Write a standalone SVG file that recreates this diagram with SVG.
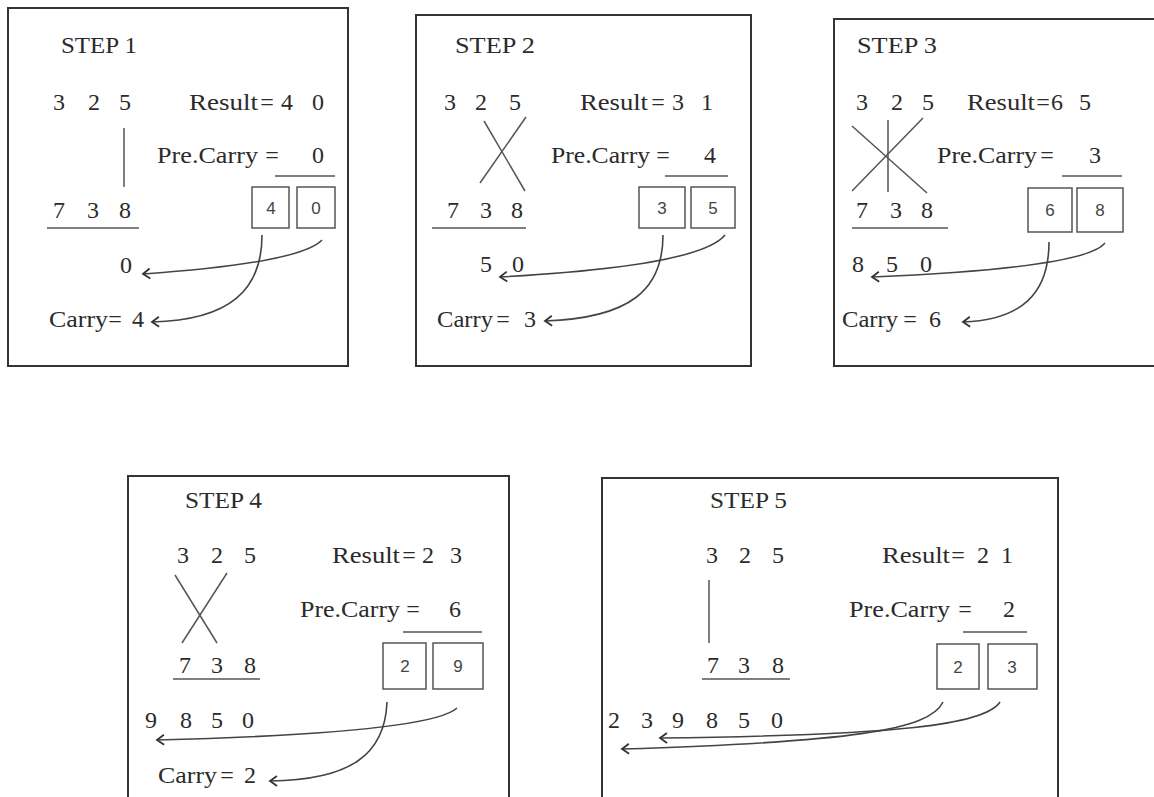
<svg xmlns="http://www.w3.org/2000/svg" width="1154" height="797" viewBox="0 0 1154 797">
  <defs>
    <style>
      .frame { fill: none; stroke: #333; stroke-width: 2; }
      .t { font-family: "Liberation Serif", "Times New Roman", serif; font-size: 24px; fill: #2b2b2b; }
      .m { text-anchor: middle; }
      .bx { fill: none; stroke: #555; stroke-width: 1.5; }
      .bd { font-family: "Liberation Sans", Arial, sans-serif; font-size: 17px; fill: #444; text-anchor: middle; }
      .ln { fill: none; stroke: #555; stroke-width: 1.5; }
      .arr { fill: none; stroke: #444; stroke-width: 1.6; marker-end: url(#chev); }
    </style>
    <marker id="chev" viewBox="-10 -7 12 14" markerWidth="12" markerHeight="14" refX="0" refY="0" orient="auto" markerUnits="userSpaceOnUse">
      <path d="M-7,-5 L0,0 L-7,5" fill="none" stroke="#333" stroke-width="1.8"/>
    </marker>
  </defs>
  <rect width="1154" height="797" fill="#fff"/>

  <!-- Step 1: units digits -->
  <g id="step1">
    <rect class="frame" x="8" y="8" width="340" height="358"/>
    <text class="t" x="61" y="53" textLength="76" lengthAdjust="spacingAndGlyphs">STEP 1</text>
    <text class="t m" x="59" y="110">3</text><text class="t m" x="94" y="110">2</text><text class="t m" x="125" y="110">5</text>
    <text class="t" x="189" y="110" textLength="69" lengthAdjust="spacingAndGlyphs">Result</text>
    <text class="t m" x="267" y="110">=</text><text class="t m" x="287" y="110">4</text><text class="t m" x="318" y="110">0</text>
    <line class="ln" x1="124" y1="128" x2="124" y2="187"/>
    <text class="t" x="157" y="163" textLength="101" lengthAdjust="spacingAndGlyphs">Pre.Carry</text>
    <text class="t m" x="272" y="163">=</text><text class="t m" x="318" y="163">0</text>
    <line class="ln" x1="275" y1="176" x2="335" y2="176"/>
    <text class="t m" x="59" y="218">7</text><text class="t m" x="93" y="218">3</text><text class="t m" x="125" y="218">8</text>
    <line class="ln" x1="47" y1="228" x2="139" y2="228"/>
    <rect class="bx" x="252" y="187" width="37" height="41"/>
    <rect class="bx" x="297" y="187" width="38" height="41"/>
    <text class="bd" x="271" y="214">4</text><text class="bd" x="316" y="214">0</text>
    <text class="t m" x="126" y="273">0</text>
    <text class="t" x="49" y="327" textLength="59" lengthAdjust="spacingAndGlyphs">Carry</text>
    <text class="t m" x="115" y="327">=</text><text class="t m" x="138" y="327">4</text>
  </g>

  <!-- Step 2: cross product of tens and units -->
  <g id="step2">
    <rect class="frame" x="416" y="15" width="335" height="351"/>
    <text class="t" x="455" y="53" textLength="80" lengthAdjust="spacingAndGlyphs">STEP 2</text>
    <text class="t m" x="450" y="110">3</text><text class="t m" x="481" y="110">2</text><text class="t m" x="515" y="110">5</text>
    <text class="t" x="580" y="110" textLength="68" lengthAdjust="spacingAndGlyphs">Result</text>
    <text class="t m" x="658" y="110">=</text><text class="t m" x="678" y="110">3</text><text class="t m" x="707" y="110">1</text>
    <line class="ln" x1="484" y1="121" x2="525" y2="191"/>
    <line class="ln" x1="526" y1="117" x2="480" y2="183"/>
    <text class="t" x="551" y="163" textLength="99" lengthAdjust="spacingAndGlyphs">Pre.Carry</text>
    <text class="t m" x="663" y="163">=</text><text class="t m" x="710" y="163">4</text>
    <line class="ln" x1="665" y1="176" x2="728" y2="176"/>
    <text class="t m" x="453" y="218">7</text><text class="t m" x="486" y="218">3</text><text class="t m" x="517" y="218">8</text>
    <line class="ln" x1="432" y1="228" x2="526" y2="228"/>
    <rect class="bx" x="639" y="187" width="46" height="41"/>
    <rect class="bx" x="691" y="187" width="44" height="41"/>
    <text class="bd" x="662" y="214">3</text><text class="bd" x="713" y="214">5</text>
    <text class="t m" x="486" y="272">5</text><text class="t m" x="518" y="272">0</text>
    <text class="t" x="437" y="327" textLength="56" lengthAdjust="spacingAndGlyphs">Carry</text>
    <text class="t m" x="503" y="327">=</text><text class="t m" x="530" y="327">3</text>
  </g>

  <!-- Step 3: full three-way cross product -->
  <g id="step3">
    <path class="frame" d="M1154,19 H834 V366 H1154"/>
    <text class="t" x="857" y="53" textLength="80" lengthAdjust="spacingAndGlyphs">STEP 3</text>
    <text class="t m" x="862" y="110">3</text><text class="t m" x="897" y="110">2</text><text class="t m" x="928" y="110">5</text>
    <text class="t" x="967" y="110" textLength="68" lengthAdjust="spacingAndGlyphs">Result</text>
    <text class="t m" x="1043" y="110">=</text><text class="t m" x="1057" y="110">6</text><text class="t m" x="1085" y="110">5</text>
    <line class="ln" x1="888" y1="120" x2="888" y2="192"/>
    <line class="ln" x1="852" y1="126" x2="927" y2="193"/>
    <line class="ln" x1="923" y1="118" x2="852" y2="191"/>
    <text class="t" x="937" y="163" textLength="100" lengthAdjust="spacingAndGlyphs">Pre.Carry</text>
    <text class="t m" x="1047" y="163">=</text><text class="t m" x="1095" y="163">3</text>
    <line class="ln" x1="1062" y1="176" x2="1122" y2="176"/>
    <text class="t m" x="862" y="218">7</text><text class="t m" x="896" y="218">3</text><text class="t m" x="927" y="218">8</text>
    <line class="ln" x1="852" y1="228" x2="948" y2="228"/>
    <rect class="bx" x="1028" y="188" width="44" height="44"/>
    <rect class="bx" x="1077" y="188" width="46" height="44"/>
    <text class="bd" x="1050" y="216">6</text><text class="bd" x="1100" y="216">8</text>
    <text class="t m" x="858" y="272">8</text><text class="t m" x="892" y="272">5</text><text class="t m" x="926" y="272">0</text>
    <text class="t" x="842" y="327" textLength="56" lengthAdjust="spacingAndGlyphs">Carry</text>
    <text class="t m" x="910" y="327">=</text><text class="t m" x="935" y="327">6</text>
  </g>

  <!-- Step 4: cross product of hundreds and tens -->
  <g id="step4">
    <path class="frame" d="M128,797 V476 H509 V797"/>
    <text class="t" x="185" y="508" textLength="77" lengthAdjust="spacingAndGlyphs">STEP 4</text>
    <text class="t m" x="183" y="563">3</text><text class="t m" x="217" y="563">2</text><text class="t m" x="250" y="563">5</text>
    <text class="t" x="332" y="563" textLength="68" lengthAdjust="spacingAndGlyphs">Result</text>
    <text class="t m" x="409" y="563">=</text><text class="t m" x="428" y="563">2</text><text class="t m" x="456" y="563">3</text>
    <line class="ln" x1="175" y1="575" x2="217" y2="643"/>
    <line class="ln" x1="227" y1="573" x2="182" y2="643"/>
    <text class="t" x="300" y="617" textLength="100" lengthAdjust="spacingAndGlyphs">Pre.Carry</text>
    <text class="t m" x="413" y="617">=</text><text class="t m" x="455" y="617">6</text>
    <line class="ln" x1="403" y1="632" x2="482" y2="632"/>
    <text class="t m" x="185" y="673">7</text><text class="t m" x="217" y="673">3</text><text class="t m" x="250" y="673">8</text>
    <line class="ln" x1="173" y1="679" x2="260" y2="679"/>
    <rect class="bx" x="383" y="643" width="43" height="46"/>
    <rect class="bx" x="433" y="643" width="50" height="46"/>
    <text class="bd" x="405" y="672">2</text><text class="bd" x="458" y="672">9</text>
    <text class="t m" x="151" y="728">9</text><text class="t m" x="186" y="728">8</text><text class="t m" x="217" y="728">5</text><text class="t m" x="248" y="728">0</text>
    <text class="t" x="158" y="783" textLength="59" lengthAdjust="spacingAndGlyphs">Carry</text>
    <text class="t m" x="227" y="783">=</text><text class="t m" x="250" y="783">2</text>
  </g>

  <!-- Step 5: hundreds digits -->
  <g id="step5">
    <path class="frame" d="M602,797 V478 H1058 V797"/>
    <text class="t" x="710" y="508" textLength="77" lengthAdjust="spacingAndGlyphs">STEP 5</text>
    <text class="t m" x="712" y="563">3</text><text class="t m" x="745" y="563">2</text><text class="t m" x="778" y="563">5</text>
    <text class="t" x="882" y="563" textLength="68" lengthAdjust="spacingAndGlyphs">Result</text>
    <text class="t m" x="958" y="563">=</text><text class="t m" x="983" y="563">2</text><text class="t m" x="1007" y="563">1</text>
    <line class="ln" x1="709" y1="580" x2="709" y2="643"/>
    <text class="t" x="849" y="617" textLength="101" lengthAdjust="spacingAndGlyphs">Pre.Carry</text>
    <text class="t m" x="965" y="617">=</text><text class="t m" x="1009" y="617">2</text>
    <line class="ln" x1="963" y1="632" x2="1027" y2="632"/>
    <text class="t m" x="713" y="673">7</text><text class="t m" x="744" y="673">3</text><text class="t m" x="778" y="673">8</text>
    <line class="ln" x1="702" y1="679" x2="790" y2="679"/>
    <rect class="bx" x="937" y="644" width="42" height="45"/>
    <rect class="bx" x="988" y="644" width="49" height="45"/>
    <text class="bd" x="958" y="673">2</text><text class="bd" x="1012" y="673">3</text>
    <text class="t m" x="614" y="728">2</text><text class="t m" x="647" y="728">3</text><text class="t m" x="678" y="728">9</text>
    <text class="t m" x="712" y="728">8</text><text class="t m" x="744" y="728">5</text><text class="t m" x="777" y="728">0</text>
  </g>

  <!-- Arrows carrying each box digit to its place -->
  <g id="connectors">
    <path class="arr" d="M322,240 Q300,263 143,274"/>
    <path class="arr" d="M262,235 C262,290 230,320 152,322"/>
    <path class="arr" d="M725,235 Q700,266 500,277"/>
    <path class="arr" d="M663,235 C663,290 630,318 545,321"/>
    <path class="arr" d="M1105,243 Q1085,268 872,277"/>
    <path class="arr" d="M1049,242 C1049,295 1020,320 963,322"/>
    <path class="arr" d="M457,708 Q430,733 157,740"/>
    <path class="arr" d="M387,702 C385,755 350,780 270,781"/>
    <path class="arr" d="M1000,702 C985,725 900,735 660,738"/>
    <path class="arr" d="M943,702 C930,730 850,742 622,749"/>
  </g>
</svg>
